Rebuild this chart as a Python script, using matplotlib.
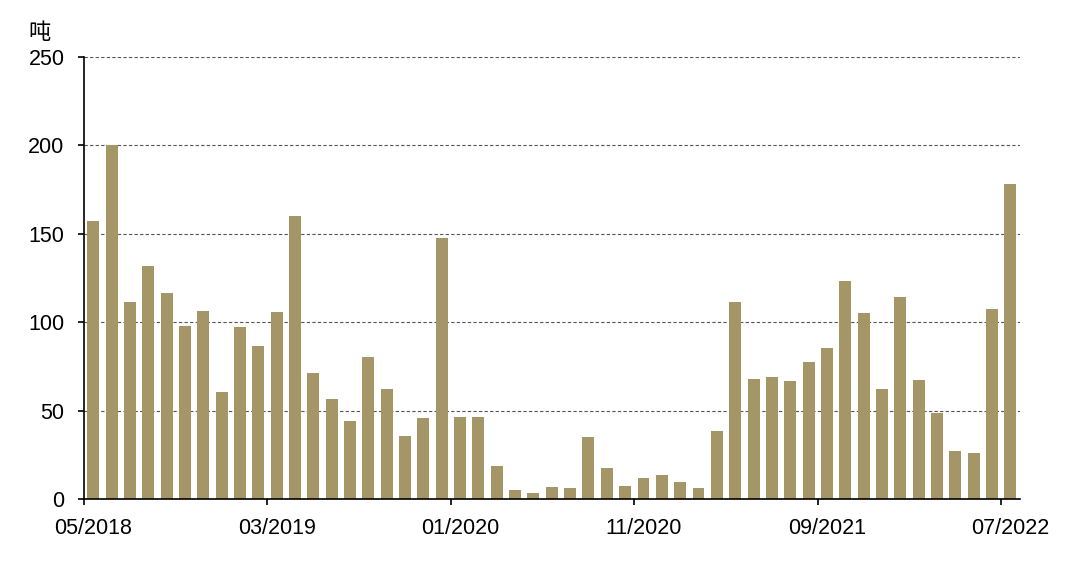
import numpy as np
import pandas as pd
import matplotlib
matplotlib.use("Agg")
import matplotlib.pyplot as plt

plt.rcParams['font.family'] = ['Liberation Sans', 'Noto Sans CJK SC', 'DejaVu Sans']

# monthly volume, tonnes, 05/2018 - 07/2022
months = pd.date_range('2018-05-01', '2022-07-01', freq='MS').strftime('%m/%Y').tolist()
values = [157, 200, 111.6, 132, 116.6, 98, 106.4, 60.8, 97.5, 86.7,
          106, 159.8, 71.2, 56.8, 44, 80.3, 62, 35.5, 46, 147.5,
          46.5, 46.5, 18.5, 5.4, 3.3, 6.8, 6.4, 35, 17.6, 7.3,
          12.2, 13.9, 9.8, 6.4, 38.6, 111.2, 68, 68.9, 66.8, 77.6,
          85.5, 123.2, 105, 62.4, 114.1, 67.6, 48.5, 27.4, 26.3, 107.7,
          178.4]
tick_every = 10
unit = '吨'

fig = plt.figure(figsize=(10.8, 5.75), dpi=100)
ax = fig.add_axes([0.0778, 0.132, 0.8662, 0.769])

x = np.arange(len(months))
ax.bar(x, values, width=0.65, color='#A59668', zorder=3)

ax.set_xlim(-0.5, len(months) - 0.5)
ax.set_ylim(0, 250)
ax.set_yticks([0, 50, 100, 150, 200, 250])

# labels sit on the bar, tick marks on the month boundary
ticks = np.arange(0, len(months), tick_every)
ax.set_xticks(ticks)
ax.set_xticklabels([months[i] for i in ticks])
ax.set_xticks(ticks - 0.5, minor=True)

for yv in [50, 100, 150, 200, 250]:
    ax.axhline(yv, color='#555555', lw=0.8, ls=(0, (3, 2)), zorder=1)

for s in ['top', 'right']:
    ax.spines[s].set_visible(False)
for s in ['left', 'bottom']:
    ax.spines[s].set_linewidth(1.2)
    ax.spines[s].set_color('black')
    ax.spines[s].set_zorder(4)

ax.tick_params(axis='both', labelsize=15.5, colors='black')
ax.tick_params(axis='y', length=4.5, width=1.2, pad=9.5)
ax.tick_params(axis='x', which='major', length=0, pad=13.5)
ax.tick_params(axis='x', which='minor', length=4.5, width=1.2, color='black')

fig.text(0.026, 0.944, unit, fontsize=16, va='center', ha='left',
         family=['Noto Sans CJK SC', 'DejaVu Sans'])

fig.savefig('out.png', dpi=100)
